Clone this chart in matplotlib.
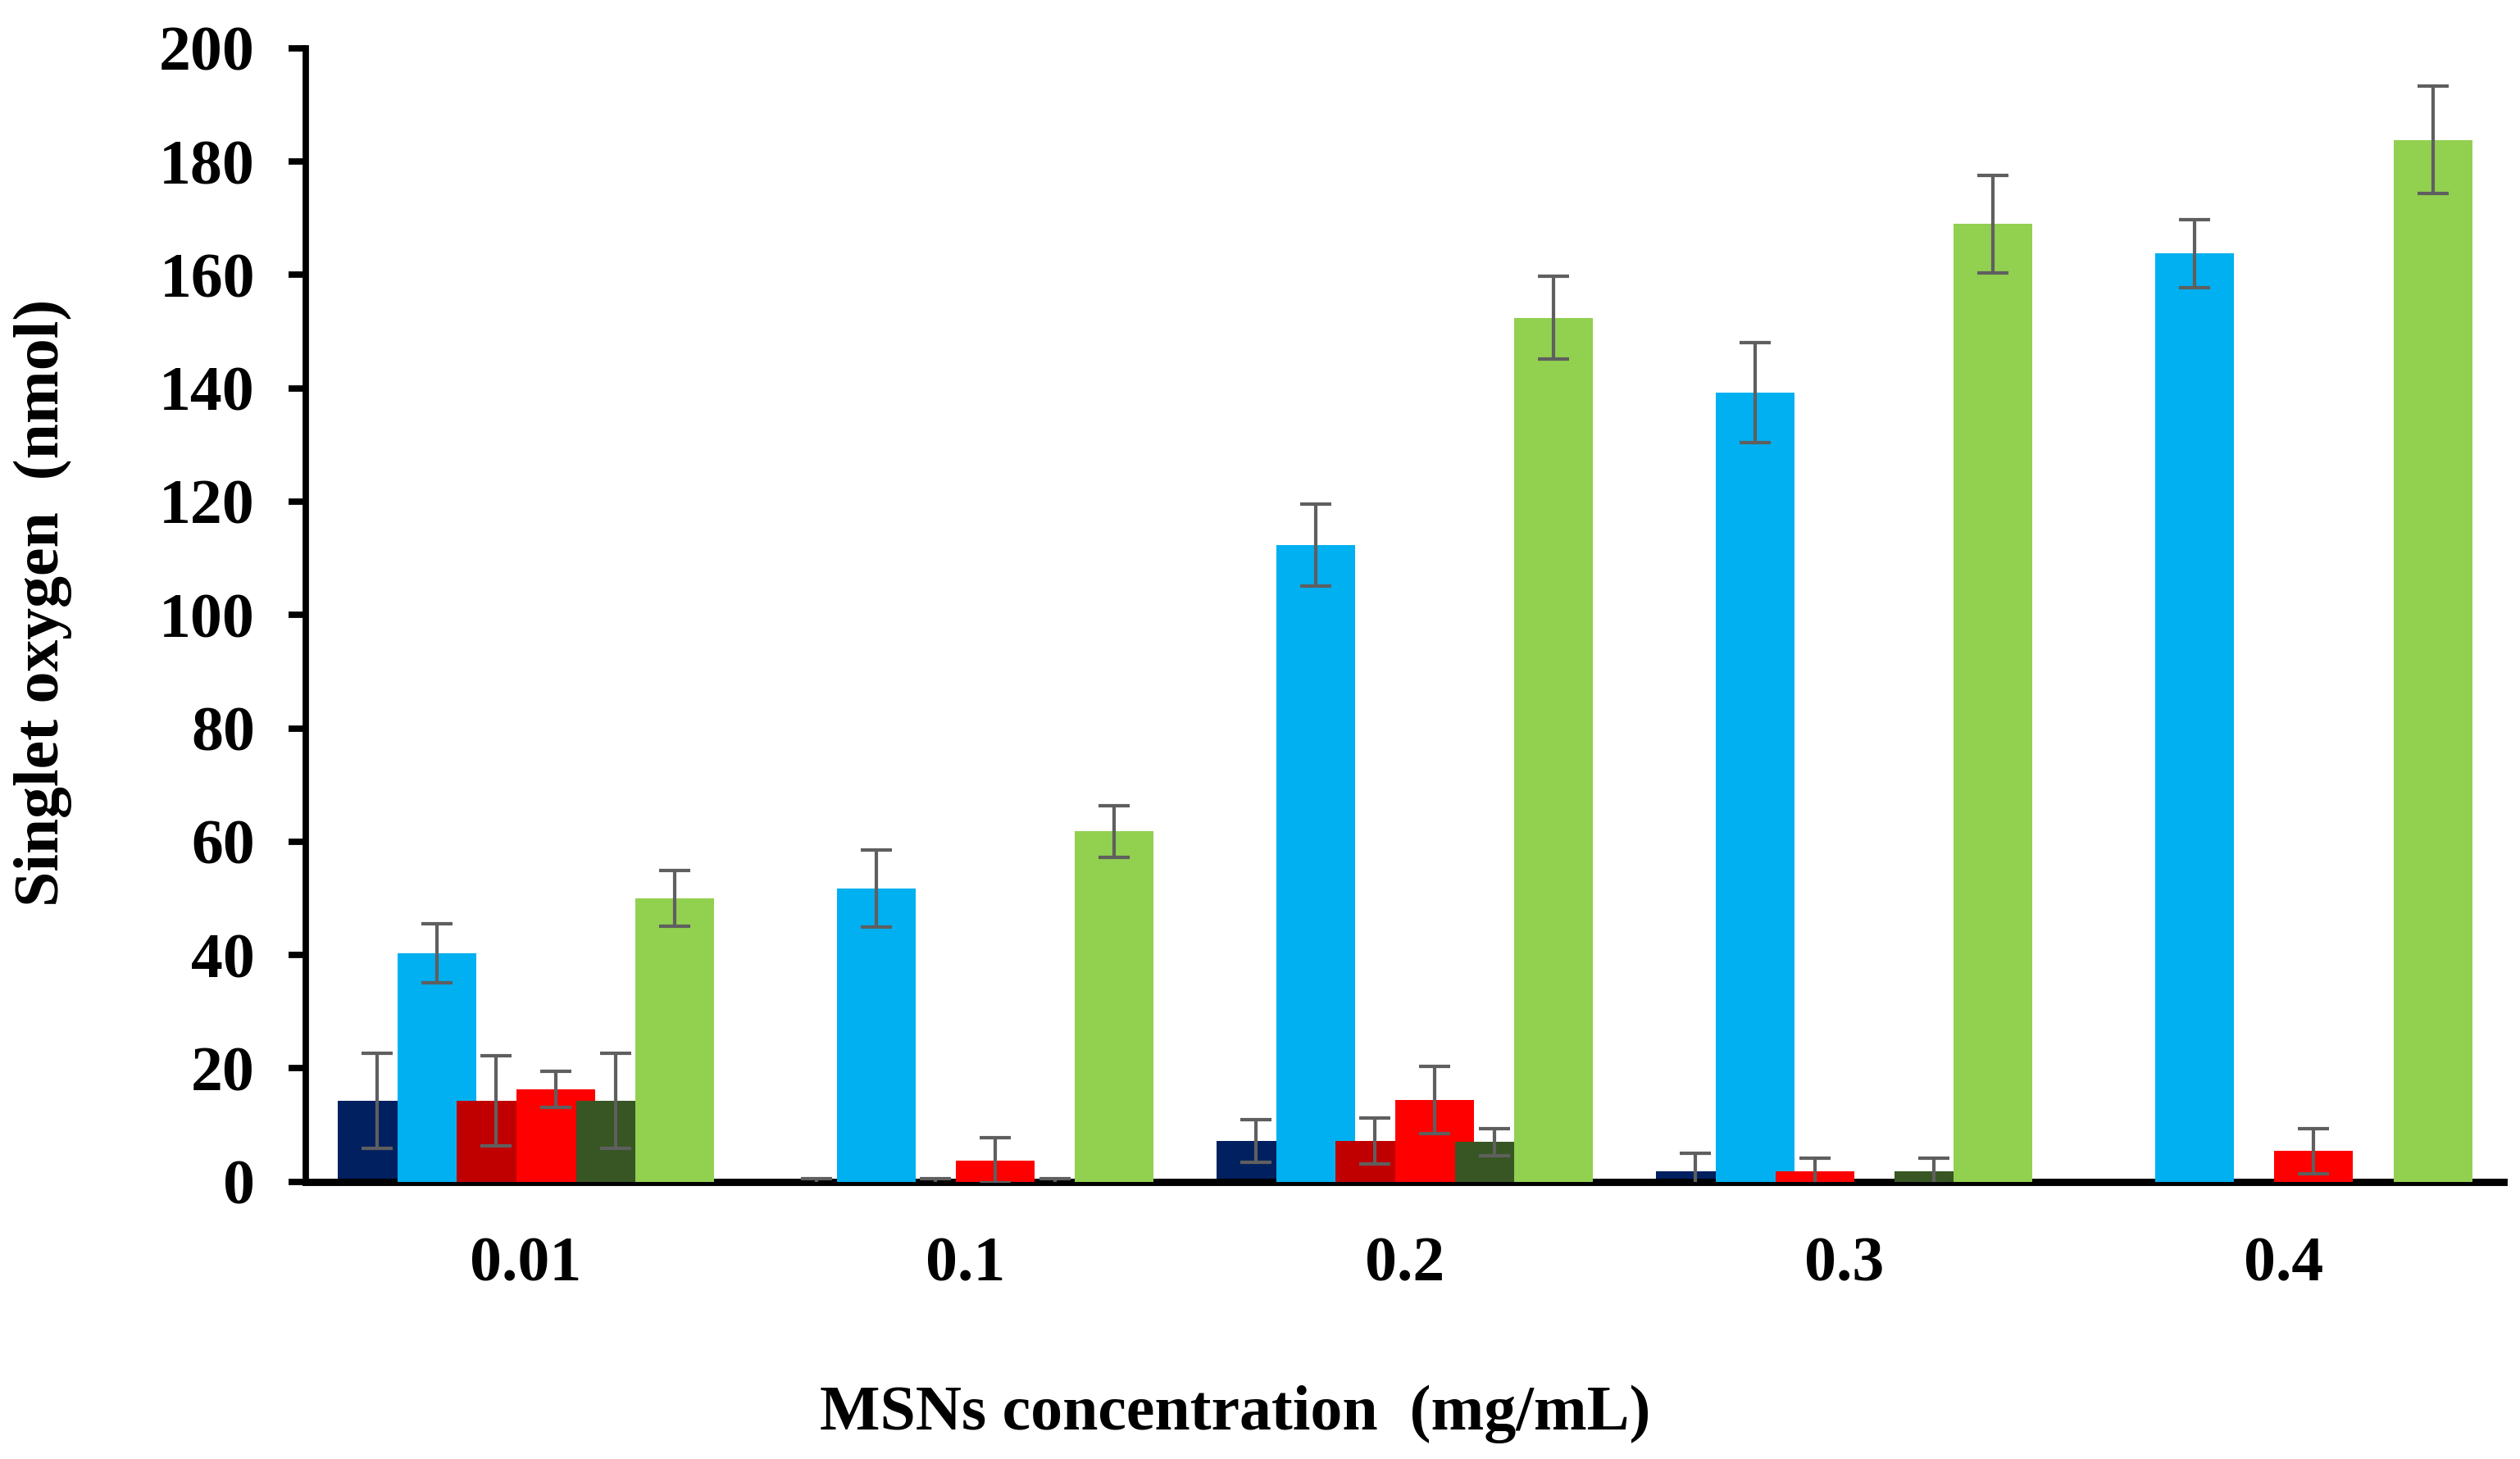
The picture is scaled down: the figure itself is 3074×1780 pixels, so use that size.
import numpy as np
import matplotlib
matplotlib.use("Agg")
import matplotlib.pyplot as plt

plt.rcParams['font.family'] = ['Liberation Serif', 'DejaVu Serif']
plt.rcParams['font.weight'] = 'bold'

# dane
stezenia = ["0.01", "0.1", "0.2", "0.3", "0.4"]

seria1 = [14.3, 0.0, 7.2, 1.8, 0.0]
blad1 = [8.4, 0.6, 3.8, 3.3, 0.0]

seria2 = [40.3, 51.8, 112.3, 139.2, 163.8]
blad2 = [5.2, 6.8, 7.2, 8.8, 6.0]

seria3 = [14.3, 0.0, 7.2, 1.8, 0.0]
blad3 = [8.0, 0.6, 4.0, 2.3, 0.0]

seria4 = [16.3, 3.8, 14.4, 0.0, 5.4]
blad4 = [3.2, 4.0, 5.9, 0.0, 4.0]

seria5 = [14.3, 0.0, 7.0, 1.8, 0.0]
blad5 = [8.4, 0.6, 2.4, 2.3, 0.0]

seria6 = [50.0, 61.8, 152.4, 169.0, 183.8]
blad6 = [4.9, 4.6, 7.3, 8.6, 9.5]

kolory = ["#002060", "#00B0F0", "#C00000", "#FF0000", "#375623", "#92D050"]

serie = [seria1, seria2, seria3, seria4, seria5, seria6]
bledy = [blad1, blad2, blad3, blad4, blad5, blad6]

fig = plt.figure(figsize=(15.37, 8.9), dpi=200)
ax = fig.add_axes([0.1215, 0.19, 0.872, 0.777])

x = np.arange(len(stezenia))
szer = 0.179
krok = 0.1355

for i in range(len(serie)):
    pozycje = x + (i - 2.5) * krok
    kol = [kolory[i]] * len(stezenia)
    if i == 2:
        kol[3] = "#FF0000"  # ten slupek na oryginale jest jasnoczerwony
    ax.bar(pozycje, serie[i], width=szer, color=kol, zorder=2 + i * 2)
    maska = np.array(bledy[i]) > 0
    ax.errorbar(pozycje[maska], np.array(serie[i])[maska], yerr=np.array(bledy[i])[maska],
                fmt='none', ecolor="#5F5F5F", elinewidth=1.5, capsize=7, capthick=1.5,
                zorder=3 + i * 2)

ax.set_xlim(-0.5, 4.5)
ax.set_ylim(0, 200)
ax.set_yticks(np.arange(0, 201, 20))
ax.set_xticks(x)
ax.set_xticklabels(stezenia)

for s in ['top', 'right']:
    ax.spines[s].set_visible(False)
ax.spines['left'].set_linewidth(2.8)
ax.spines['bottom'].set_linewidth(3.2)

ax.tick_params(axis='y', length=7.5, width=2.8, labelsize=28, pad=15)
ax.tick_params(axis='x', length=0, labelsize=28, pad=24)

fig.text(0.49, 0.031, "MSNs concentration  (mg/mL)", ha='center', va='center', fontsize=28,
         fontweight='bold')
fig.text(0.017, 0.587, "Singlet oxygen  (nmol)", ha='center', va='center', fontsize=28,
         fontweight='bold', rotation=90)

fig.savefig("out.png", dpi=200)
